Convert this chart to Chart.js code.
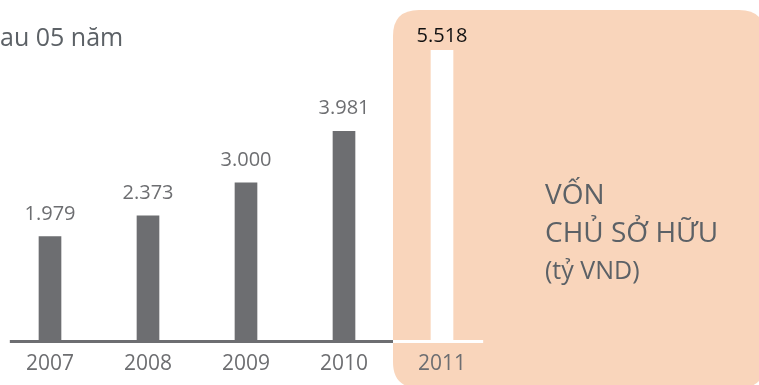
<!DOCTYPE html>
<html>
<head>
<meta charset="utf-8">
<script src="https://cdn.jsdelivr.net/npm/chart.js@4/dist/chart.umd.min.js"></script>
<style>
  html, body { margin: 0; padding: 0; background: #fff; }
  #wrap { width: 759px; height: 385px; position: relative; }
</style>
</head>
<body>
<div id="wrap"><canvas id="equityChart"></canvas></div>
<script>
const years = ["2007", "2008", "2009", "2010", "2011"];
const equity = [1979, 2373, 3000, 3981, 5518];   // tỷ VND
const headline = "au 05 năm";
const panelLines = ["VỐN", "CHỦ SỞ HỮU", "(tỷ VND)"];

const GRAY = "#6d6e71";
const TEXT = "#5c6166";
const PEACH = "#f9d5bb";
const FONT = "'Open Sans', 'Noto Sans', sans-serif";

// 1979 -> "1.979"
const fmt = v => String(v).replace(/\B(?=(\d{3})+(?!\d))/g, ".");

function roundRect(ctx, x, y, w, h, r) {
  ctx.beginPath();
  ctx.moveTo(x + r, y);
  ctx.lineTo(x + w - r, y);
  ctx.quadraticCurveTo(x + w, y, x + w, y + r);
  ctx.lineTo(x + w, y + h - r);
  ctx.quadraticCurveTo(x + w, y + h, x + w - r, y + h);
  ctx.lineTo(x + r, y + h);
  ctx.quadraticCurveTo(x, y + h, x, y + h - r);
  ctx.lineTo(x, y + r);
  ctx.quadraticCurveTo(x, y, x + r, y);
  ctx.closePath();
}

// peach panel behind the latest year + headline text
const backdrop = {
  id: "backdrop",
  beforeDraw(chart) {
    const { ctx } = chart;
    const x = chart.scales.x;
    const last = years.length - 1;
    const left = (x.getPixelForValue(last - 1) + x.getPixelForValue(last)) / 2;
    ctx.save();
    ctx.fillStyle = PEACH;
    roundRect(ctx, left, 10, 372, 378, 26);
    ctx.fill();

    ctx.fillStyle = TEXT;
    ctx.font = "25px " + FONT;
    ctx.textBaseline = "alphabetic";
    ctx.textAlign = "left";
    ctx.fillText(headline, 0, 46);
    ctx.restore();
  }
};

// baseline, value labels and the panel caption
const annotate = {
  id: "annotate",
  afterDatasetsDraw(chart) {
    const { ctx } = chart;
    const x = chart.scales.x;
    const y = chart.scales.y;
    const last = years.length - 1;
    const step = x.getPixelForValue(1) - x.getPixelForValue(0);
    const split = (x.getPixelForValue(last - 1) + x.getPixelForValue(last)) / 2;
    const lineL = x.getPixelForValue(0) - 0.41 * step;
    const lineR = x.getPixelForValue(last) + 0.42 * step;
    const y0 = Math.round(y.getPixelForValue(0)) - 1;

    ctx.save();
    ctx.fillStyle = GRAY;
    ctx.fillRect(lineL, y0, split - lineL, 3);
    ctx.fillStyle = "#ffffff";
    ctx.fillRect(split, y0, lineR - split, 3);

    const bars = chart.getDatasetMeta(0).data;
    ctx.textAlign = "center";
    ctx.textBaseline = "alphabetic";
    bars.forEach((bar, i) => {
      const hl = i === last;
      ctx.fillStyle = hl ? "#111111" : GRAY;
      ctx.font = (hl ? "500 " : "") + "20px " + FONT;
      ctx.fillText(fmt(equity[i]), bar.x, bar.y - (hl ? 8 : 17));
    });

    ctx.textAlign = "left";
    ctx.fillStyle = TEXT;
    ctx.font = "28px " + FONT;
    ctx.fillText(panelLines[0], 545, 204);
    ctx.fillText(panelLines[1], 545, 242);
    ctx.font = "25px " + FONT;
    ctx.fillText(panelLines[2], 545, 279);
    ctx.restore();
  }
};

new Chart(document.getElementById("equityChart"), {
  type: "bar",
  data: {
    labels: years,
    datasets: [{
      data: equity,
      backgroundColor: years.map((_, i) => i === years.length - 1 ? "#ffffff" : GRAY),
      borderWidth: 0,
      barThickness: 22
    }]
  },
  options: {
    responsive: true,
    maintainAspectRatio: false,
    animation: false,
    layout: { padding: { left: 1, right: 268, top: 40, bottom: 5 } },
    plugins: {
      legend: { display: false },
      tooltip: { enabled: false }
    },
    scales: {
      x: {
        grid: { display: false },
        border: { display: false },
        ticks: { color: GRAY, font: { family: FONT, size: 21 }, padding: 3 }
      },
      y: {
        display: false,
        min: 0,
        max: 5714
      }
    }
  },
  plugins: [backdrop, annotate]
});
</script>
</body>
</html>
